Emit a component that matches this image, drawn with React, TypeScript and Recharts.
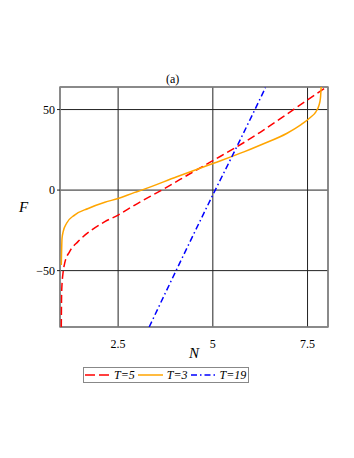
import { LineChart, Line, XAxis, YAxis, CartesianGrid, ReferenceArea, Legend } from 'recharts';

const xDomain: [number, number] = [0.966, 8.04];
const yDomain: [number, number] = [-85, 64];
const xTicks = [2.5, 5, 7.5];
const yTicks = [-50, 0, 50];

// T=5, red dashed
const t5 = [
  { n: 1.0, f: -85 },
  { n: 1.01, f: -63 },
  { n: 1.05, f: -50.6 },
  { n: 1.09, f: -45.4 },
  { n: 1.22, f: -38.2 },
  { n: 1.44, f: -32 },
  { n: 1.8, f: -24.8 },
  { n: 2.15, f: -19.6 },
  { n: 2.5, f: -15.5 },
  { n: 2.94, f: -9.3 },
  { n: 3.65, f: 0 },
  { n: 4.48, f: 11.3 },
  { n: 5.0, f: 18.3 },
  { n: 5.63, f: 26.8 },
  { n: 6.25, f: 35.9 },
  { n: 7.13, f: 50 },
  { n: 8.0, f: 64 },
];

// T=3, orange solid
const t3 = [
  { n: 1.0, f: -46.5 },
  { n: 1.02, f: -29.9 },
  { n: 1.05, f: -25.8 },
  { n: 1.14, f: -20.6 },
  { n: 1.35, f: -15.5 },
  { n: 1.71, f: -11.4 },
  { n: 2.15, f: -7.6 },
  { n: 2.5, f: -5.2 },
  { n: 2.94, f: -1.4 },
  { n: 3.12, f: 0 },
  { n: 4.05, f: 8.3 },
  { n: 5.0, f: 16.5 },
  { n: 5.82, f: 23.7 },
  { n: 6.26, f: 28.0 },
  { n: 6.96, f: 35.3 },
  { n: 7.31, f: 40.3 },
  { n: 7.58, f: 45.2 },
  { n: 7.72, f: 48.6 },
  { n: 7.8, f: 52.5 },
  { n: 7.84, f: 57 },
  { n: 7.86, f: 64 },
];

// T=19, blue dash-dot
const t19 = [
  { n: 3.32, f: -85 },
  { n: 4.05, f: -49 },
  { n: 5.0, f: -3 },
  { n: 5.63, f: 26.8 },
  { n: 6.39, f: 63.6 },
];

const series = [
  { name: 'T=5', data: t5, color: '#ff0000', dash: '8 4', legendDash: '10 4' },
  { name: 'T=3', data: t3, color: '#ffa500', dash: undefined, legendDash: undefined },
  { name: 'T=19', data: t19, color: '#0000ff', dash: '6 3 1.5 3', legendDash: '6 3 1.5 3' },
];

const serif = '"Liberation Serif", "Times New Roman", serif';
const tickStyle = { fontSize: 12, fill: '#000', fontFamily: serif };
const fmt = (v: number) => (v < 0 ? `\u2212${Math.abs(v)}` : `${v}`);

const LegendBox = () => (
  <div
    style={{
      display: 'flex',
      alignItems: 'center',
      height: 16,
      border: '1.5px solid #888',
      boxSizing: 'border-box',
      padding: '0 2px 0 1px',
      fontFamily: serif,
      fontStyle: 'italic',
      fontSize: 12,
      background: '#fff',
    }}
  >
    {series.map((s, i) => (
      <div key={s.name} style={{ display: 'flex', alignItems: 'center', marginRight: i < series.length - 1 ? 3 : 0 }}>
        <svg width={25} height={6} style={{ marginRight: 4 }}>
          <line x1={0} y1={3} x2={25} y2={3} stroke={s.color} strokeWidth={1.5} strokeDasharray={s.legendDash} />
        </svg>
        <span>{s.name}</span>
      </div>
    ))}
  </div>
);

export default function App() {
  return (
    <div style={{ position: 'absolute', left: 0, top: 0, width: 354, height: 458, background: '#fff' }}>
      <div
        style={{
          position: 'absolute',
          left: 166,
          top: 72,
          fontFamily: serif,
          fontSize: 12,
          color: '#000',
        }}
      >
        (a)
      </div>
      <LineChart width={354} height={458} margin={{ top: 87, right: 26, bottom: 0, left: 0 }}>
        <CartesianGrid stroke="#222" strokeWidth={1} />
        <XAxis
          type="number"
          dataKey="n"
          domain={xDomain}
          ticks={xTicks}
          allowDataOverflow
          height={131}
          axisLine={false}
          tickLine={false}
          tick={tickStyle}
          tickMargin={6}
          label={{ value: 'N', position: 'insideTop', offset: 20, fontSize: 15, fontStyle: 'italic', fontFamily: serif, fill: '#000' }}
        />
        <YAxis
          type="number"
          domain={yDomain}
          ticks={yTicks}
          allowDataOverflow
          width={60}
          axisLine={false}
          tickSize={3}
          tickLine={{ stroke: '#222' }}
          tick={tickStyle}
          tickFormatter={fmt}
          label={{ value: 'F', position: 'insideLeft', offset: 19, fontSize: 15, fontStyle: 'italic', fontFamily: serif, fill: '#000' }}
        />
        <ReferenceArea
          x1={xDomain[0]}
          x2={xDomain[1]}
          y1={yDomain[0]}
          y2={yDomain[1]}
          fill="none"
          stroke="#888"
          strokeWidth={1.5}
        />
        {series.map((s) => (
          <Line
            key={s.name}
            data={s.data}
            dataKey="f"
            name={s.name}
            type="monotone"
            stroke={s.color}
            strokeWidth={1.5}
            strokeDasharray={s.dash}
            dot={false}
            isAnimationActive={false}
          />
        ))}
        <Legend
          layout="horizontal"
          verticalAlign="middle"
          wrapperStyle={{ left: 83, top: 367, width: 'auto' }}
          content={() => <LegendBox />}
        />
      </LineChart>
    </div>
  );
}
